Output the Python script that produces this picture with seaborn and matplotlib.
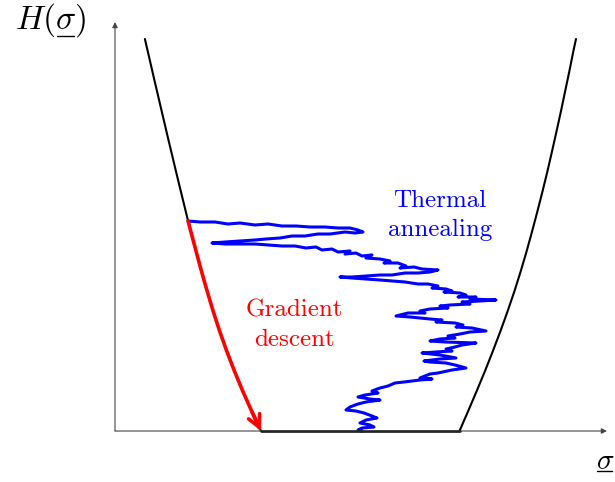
import matplotlib
matplotlib.use("Agg")
import matplotlib.pyplot as plt
import seaborn as sns

# schematic energy landscape, units = pixels from the axes corner
left_sigma = [29.9, 35.0, 39.6, 44.3, 49.0, 53.7, 58.5, 63.3, 68.2, 73.1, 75.7, 81.0,
              86.4, 92.1, 98.1, 104.6, 111.7, 119.4, 127.7, 136.6, 146.0]
left_H = [392, 370, 350, 330, 310, 290, 270, 250, 230, 210, 200, 180,
          160, 140, 120, 100, 80, 60, 40, 20, 0]
bottom_sigma = [146.0, 344.5]
bottom_H = [0, 0]
right_sigma = [344.5, 353.2, 361.7, 370.0, 377.9, 385.5, 392.7, 399.5, 405.8, 411.7, 417.2,
               422.5, 427.6, 432.5, 437.1, 441.6, 446.0, 450.2, 454.4, 458.4, 461.0]
right_H = [0, 20, 40, 60, 80, 100, 120, 140, 160, 180, 200,
           220, 240, 260, 280, 300, 320, 340, 360, 380, 392]

# gradient descent follows the left branch from H=210 down
grad_sigma = left_sigma[9:]
grad_H = left_H[9:]

# thermal annealing walk
walk_sigma = [73, 85, 100, 113, 125, 140, 153, 167, 181, 195, 210, 223, 235, 243, 248, 240,
              230, 215, 203, 190, 177, 165, 151, 140, 125, 110, 97,
              110, 125, 140, 153, 167, 180, 191, 201, 207, 217, 223, 235, 230, 241, 247, 257,
              251, 265, 275, 269, 283, 291, 285, 299, 307, 323, 315, 303,
              290, 277, 265, 251, 237, 225,
              237, 251, 265, 277, 290, 303, 313, 323, 317, 331, 337, 329, 345, 351, 343, 361,
              355, 381, 365, 347, 355, 335, 325, 333, 315, 305, 310, 293, 281,
              295, 315, 327, 321, 340, 348, 341, 357, 371, 355, 345, 333, 340, 325, 315, 330,
              361, 347, 340, 331, 337, 321, 307, 325, 341, 325, 309, 315, 331, 340, 351, 337,
              323, 315, 305, 317,
              305, 289, 280, 273, 265, 257, 263, 250, 243, 255, 265, 251, 243, 235, 231, 241,
              249, 257, 262, 251, 245, 255, 259, 247, 243, 247]
walk_H = [210, 209, 209, 207, 208, 206, 207, 205, 205, 204, 204, 203, 203, 201, 199, 198,
          199, 197, 197, 195, 195, 193, 192, 191, 190, 189, 188,
          187, 187, 187, 186, 185, 185, 183, 184, 181, 182, 179, 180, 177, 178, 175, 176,
          173, 172, 170, 168, 168, 165, 163, 164, 162, 161, 159, 158,
          158, 156, 156, 155, 154, 154,
          153, 152, 151, 150, 149, 147, 147, 145, 143, 142, 140, 139, 138, 136, 134, 134,
          132, 131, 130, 129, 127, 126, 125, 123, 122, 120, 118, 118, 115,
          114, 112, 111, 109, 108, 106, 104, 103, 100, 99, 97, 95, 93, 92, 90, 89,
          88, 86, 84, 82, 80, 79, 78, 76, 73, 72, 70, 69, 68, 66, 63, 61,
          58, 57, 53, 52,
          51, 49, 48, 45, 43, 40, 38, 36, 34, 32, 31, 29, 27, 24, 21, 20,
          18, 15, 13, 11, 8, 6, 4, 3, 1, 0]

sns.set_style("white")
plt.rcParams["mathtext.fontset"] = "cm"
plt.rcParams["axes.formatter.use_mathtext"] = True
plt.rcParams["font.family"] = ["cmr10", "DejaVu Serif"]
plt.rcParams["text.color"] = "black"

fig = plt.figure(figsize=(6.15, 4.82), dpi=100)
ax = fig.add_axes([0, 0, 1, 1])

kw = dict(sort=False, estimator=None, ax=ax, legend=False)
sns.lineplot(x=walk_sigma, y=walk_H, color="#0000ff", linewidth=2.2, **kw)
sns.lineplot(x=left_sigma, y=left_H, color="black", linewidth=1.5, **kw)
sns.lineplot(x=right_sigma, y=right_H, color="black", linewidth=1.5, **kw)
sns.lineplot(x=bottom_sigma, y=bottom_H, color="black", linewidth=1.8, **kw)
sns.lineplot(x=grad_sigma[:-1] + [grad_sigma[-1] - 1.5], y=grad_H[:-1] + [3],
             color="#ff0000", linewidth=2.6, **kw)
ax.annotate("", xy=(grad_sigma[-1], grad_H[-1]), xytext=(grad_sigma[-2], grad_H[-2]),
            arrowprops=dict(arrowstyle="->", color="#ff0000", lw=2.6,
                            shrinkA=0, shrinkB=0, mutation_scale=22))

# axes with arrows
ax.annotate("", xy=(492, 0), xytext=(0, 0),
            arrowprops=dict(arrowstyle="-|>", color="#444444", lw=0.8,
                            shrinkA=0, shrinkB=0, mutation_scale=8))
ax.annotate("", xy=(0, 409), xytext=(0, 0),
            arrowprops=dict(arrowstyle="-|>", color="#444444", lw=0.8,
                            shrinkA=0, shrinkB=0, mutation_scale=8))

# axis labels, sigma underlined by hand
ax.text(-64, 411, r"$H(\sigma)$", fontsize=24, ha="center", va="center", color="black")
ax.plot([-58, -41], [395, 395], color="black", lw=1.0)
ax.text(490, -31, r"$\sigma$", fontsize=21, ha="center", va="center", color="black")
ax.plot([482, 497], [-40, -40], color="black", lw=1.0)

ax.text(325, 216, "Thermal\nannealing", color="#0000ff", fontsize=18,
        ha="center", va="center", linespacing=1.4)
ax.text(179, 106, "Gradient\ndescent", color="#ff0000", fontsize=18,
        ha="center", va="center", linespacing=1.4)

ax.set_xlim(-115, 500)
ax.set_ylim(-51, 431)
ax.axis("off")

fig.savefig("out.png", dpi=100)
